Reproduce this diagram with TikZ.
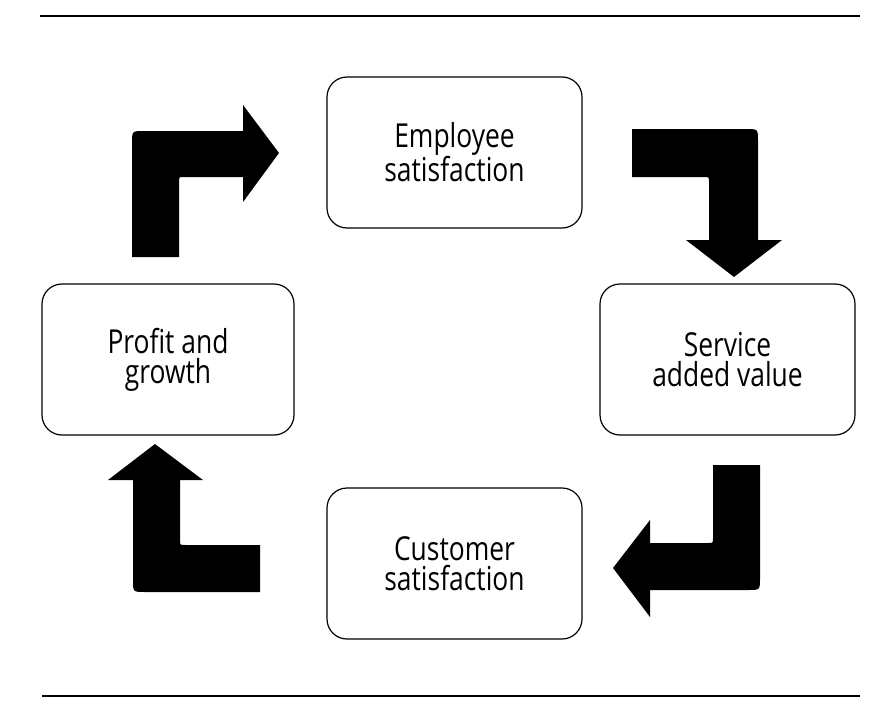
\documentclass[tikz,border=0pt]{standalone}
\usepackage{fontspec}
\setmainfont{Open Sans}[FakeStretch=0.8]

\begin{document}
\begin{tikzpicture}[
  x=1pt,y=-1pt,
  card/.style={
    draw,
    line width=1.2pt,
    rounded corners=20pt,
    minimum width=255pt,
    minimum height=151pt,
    align=center,
    font=\fontsize{33}{30}\selectfont
  },
  bent/.style={fill=black},
  frame/.style={line width=1.3pt}
]
  \useasboundingbox (0,0) rectangle (873,725);

  % Rules above and below the cycle.
  \draw[frame] (40,16) -- (860,16);
  \draw[frame] (42,696) -- (860,696);

  % The four stages of the cycle.
  \node[card] (employee) at (454.5,152.5) {Employee\\satisfaction};
  \node[card] (service) at (727.5,359.5) {Service\\added value};
  \node[card] (customer) at (454.5,563.5) {Customer\\satisfaction};
  \node[card,minimum width=252pt] (profit) at (168,359.5) {Profit and\\growth};

  % Bent block arrows, going clockwise.
  \fill[bent]
    (132,257) -- (132,143) .. controls (132,131) .. (144,131)
    -- (243,131) -- (243,105) -- (279,153) -- (243,202) -- (243,177)
    -- (184,177) .. controls (179,177) .. (179,182) -- (179,257) -- cycle;
  \fill[bent]
    (632,129) -- (746,129) .. controls (758,129) .. (758,141)
    -- (758,240) -- (782,240) -- (734,277) -- (686,240) -- (709,240)
    -- (709,182) .. controls (709,177) .. (704,177) -- (632,177) -- cycle;
  \fill[bent]
    (713,465) -- (760,465) -- (760,578) .. controls (760,590) .. (748,590)
    -- (650,590) -- (650,617) -- (613,568) -- (650,520) -- (650,543)
    -- (708,543) .. controls (713,543) .. (713,538) -- cycle;
  \fill[bent]
    (260,592) -- (145,592) .. controls (133,592) .. (133,580)
    -- (133,480) -- (108,480) -- (155,444) -- (203,480) -- (180,480)
    -- (180,540) .. controls (180,545) .. (185,545) -- (260,545) -- cycle;
\end{tikzpicture}
\end{document}
